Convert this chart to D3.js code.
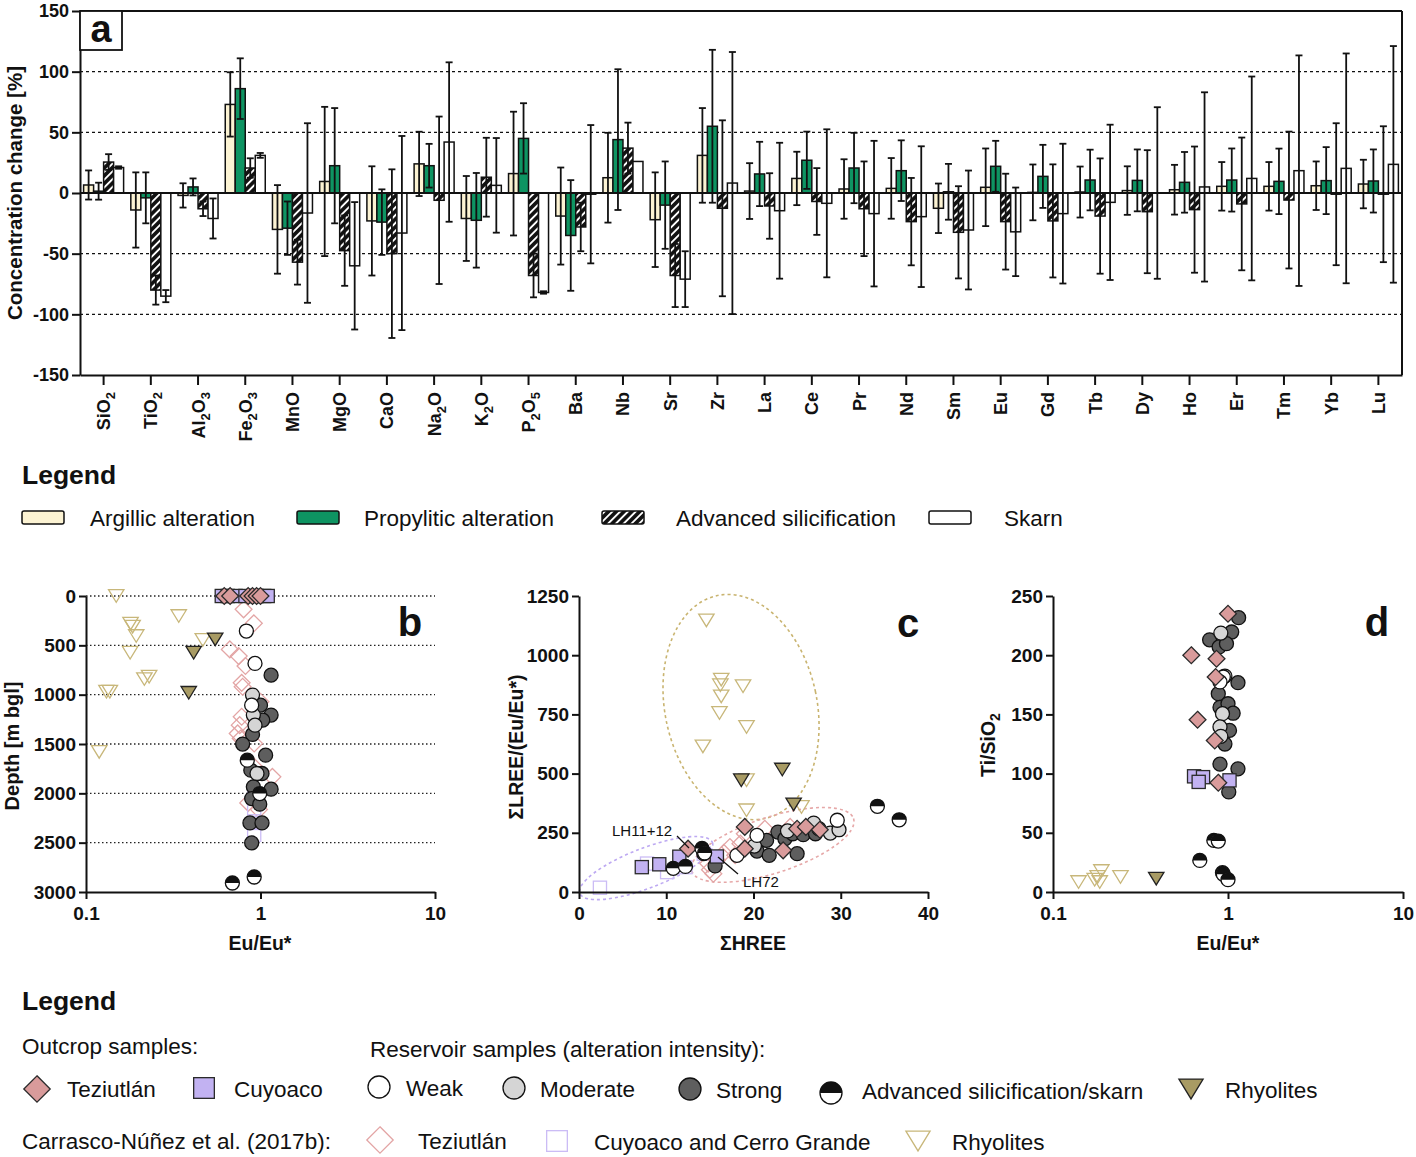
<!DOCTYPE html>
<html><head><meta charset="utf-8">
<script src="https://cdn.jsdelivr.net/npm/d3@7"></script>
<style>
body{margin:0;background:#fff}
svg{display:block}
text{font-family:"Liberation Sans",Arial,Helvetica,sans-serif;fill:#111}
</style>
</head><body>
<svg id="c" width="1416" height="1157"></svg>
<script>
// ---------------- DATA: panel a ----------------
const categories = ["SiO_2","TiO_2","Al_2O_3","Fe_2O_3","MnO","MgO","CaO","Na_2O","K_2O","P_2O_5","Ba","Nb","Sr","Zr","La","Ce","Pr","Nd","Sm","Eu","Gd","Tb","Dy","Ho","Er","Tm","Yb","Lu"];
const seriesNames = ["Argillic alteration","Propylitic alteration","Advanced silicification","Skarn"];
const argillicMean = [6.6,-14,-2,73,-30,9.5,-23,24,-21,16,-19,12.6,-22,31,1.6,12,3.3,3.8,-12.6,4.7,0.5,0.8,2,2.7,5.5,5.5,6,7.4];
const argillicSD   = [12,31,10,26.5,36.5,61.5,45,26.5,35,51,40,37,39,39,23,22,24.5,25,20.4,32,23,21,20,20.5,20,20,20,20];
const propyliticMean = [1.5,-4,5,86,-29,22.5,-24,22.5,-22.5,45,-35,44,-10,55,15.7,27,20.6,18.4,1,22,13.7,10.7,10.4,8.8,10.7,9.6,10.2,9.9];
const propyliticSD   = [7,21,7,25,22,47.5,27,18,39,29,45.6,58,36,63,26.5,23.6,29,25,23,21,26,25,25.5,25,26,27,27.6,26];
const advancedMean = [25.5,-80,-13,20.6,-57,-47.5,-50,-6,13,-68,-28,37,-68,-12.6,-10.7,-7,-13,-23.6,-32.4,-23.6,-23,-19,-15.4,-13.7,-9,-5.8,-1,-1];
const advancedSD   = [6.5,12,6,8,18.5,29,69.5,69,32.5,18,20,21,26,72.5,27,27.5,39,36,38,39.5,46.6,47.5,50.7,52,54.7,56.4,58.5,56];
const skarnMean = [21,-85,-21,31,-16.5,-60,-33,42,6.3,-82,-1,26,-71,8.2,-14.6,-8.5,-17,-19.5,-30.5,-32,-17,-7.7,0,5,12,18.4,20.3,23.6];
const skarnSD   = [1,5,16.5,2,74,52.5,80,65.7,39,1,57,0,23,108,56,61,60,58,49,36.5,57.6,64,70.7,78,84,95,94.7,97.5];
const yTicksA = [-150,-100,-50,0,50,100,150];
const gridA = [-100,-50,50,100];

// ---------------- DATA: panel b (Eu/Eu*, depth) ----------------
const bRhyO = [[0.149,0],[0.34,203],[0.18,280],[0.185,310],[0.194,406],[0.467,446],[0.179,575],[0.23,818],[0.216,842],[0.131,970],[0.137,970],[0.119,1580]];
const bRhyF = [[0.55,440],[0.414,575],[0.388,981]];
const bTezO = [[0.80,135],[0.916,277],[0.667,541],[0.75,609],[0.82,710],[0.78,880],[0.79,920],[1.0,1072],[0.78,1224],[0.76,1309],[0.74,1393],[0.77,1444],[0.92,1495],[0.92,1731],[1.17,1833],[0.85,2097],[0.98,2165]];
const bCuyO = [[0.92,2000],[0.92,2150],[0.92,2300],[0.92,2420]];
const bCuyF = [[0.6,0],[0.65,0],[0.72,0],[0.82,0],[0.95,0],[1.05,0],[1.1,0]];
const bTezF = [[0.62,0],[0.67,0],[0.85,0],[0.9,0],[0.95,0],[1.0,0]];
const bWeak = [[0.83,355],[0.93,683],[0.89,1106]];
const bMod = [[0.90,1004],[0.91,1207],[0.93,1309],[0.955,1799]];
const bStrong = [[1.15,802],[1.0,1106],[1.15,1207],[1.03,1258],[0.9,1403],[0.79,1501],[1.07,1613],[0.88,1765],[1.02,1799],[0.91,1934],[1.15,1958],[0.89,2053],[0.99,2110],[0.87,2300],[1.02,2300],[0.89,2503]];
const bAdv = [[0.84,1664],[0.99,2002],[0.69,2909],[0.92,2848]];
const bTicksY = [0,500,1000,1500,2000,2500,3000];
const logTicks = [0.1,1,10];

// ---------------- DATA: panel c (ΣHREE, ΣLREE/(Eu/Eu*)) ----------------
const cRhyO = [[14.6,1147],[16.3,897],[16.2,873],[16.3,826],[16.1,756],[18.8,869],[19.2,697],[14.2,615],[19.2,472],[19.2,345],[25.5,359]];
const cRhyF = [[18.6,472],[23.3,517],[24.6,370]];
const cCuyO = [[2.4,18],[7.8,120],[10.1,84],[12.2,105],[14.3,162]];
const cTezO = [[15.0,94],[15.8,134],[16.6,165],[17.3,190],[17.9,155],[18.5,204],[19.0,246],[21.3,267],[24.2,275],[14.8,120],[15.4,77]];
const cCuyF = [[7.2,105],[9.2,117],[11.5,149],[15.8,150]];
const cTezF = [[12.5,183],[19.0,275],[19.0,183],[23.4,176],[25.0,267],[26.0,275],[27.6,263]];
const cWeak = [[18.1,155],[20.4,239],[29.6,303]];
const cMod = [[20.1,194],[23.9,258],[26.9,291],[28.8,249],[29.8,263]];
const cStrong = [[20.4,173],[21.5,218],[21.8,155],[22.8,253],[23.6,225],[25.0,162],[24.5,246],[25.7,242],[27.1,246],[15.6,110],[14.3,162],[27.5,267]];
const cAdv = [[34.2,362],[36.7,305],[10.8,100],[12.2,108],[14.1,184],[14.4,165]];
const cTicksX = [0,10,20,30,40];
const cTicksY = [0,250,500,750,1000,1250];

// ---------------- DATA: panel d (Eu/Eu*, Ti/SiO2) ----------------
const dRhyO = [[0.140,8.4],[0.173,10.4],[0.185,8.4],[0.189,17.7],[0.18,12.7],[0.243,12.7]];
const dRhyF = [[0.389,11.3]];
const dAdv = [[0.83,43.6],[0.88,43],[0.69,26.7],[0.93,16.3],[0.94,15],[1.0,10.4]];
const dTezF = [[1.0,235],[0.617,200],[0.86,197],[0.85,181.6],[0.67,145.5],[0.84,128],[0.88,92.3]];
const dCuyF = [[0.64,97.7],[0.72,97],[0.68,93],[1.02,94.3]];
const dWeak = [[0.94,181.6],[0.9,177.4]];
const dMod = [[0.91,218.7],[0.96,182.4],[0.93,150.6],[0.9,139.4],[0.91,131.5]];
const dStrong = [[1.15,231.7],[0.785,213],[1.05,219.6],[0.89,207],[0.98,209.7],[1.14,176.8],[0.88,167.5],[0.9,156],[1.0,159],[1.07,151],[1.02,136.5],[0.96,125],[0.9,108],[1.14,104],[1.01,84.5]];
const dTicksY = [0,50,100,150,200,250];

// ================= DRAWING =================
const svg = d3.select("#c");
const defs = svg.append("defs");
const hp = defs.append("pattern").attr("id","hatch").attr("patternUnits","userSpaceOnUse")
  .attr("width",5.5).attr("height",5.5).attr("patternTransform","rotate(45)");
hp.append("rect").attr("width",5.5).attr("height",5.5).attr("fill","#111");
hp.append("line").attr("x1",2.75).attr("x2",2.75).attr("y1",0).attr("y2",5.5).attr("stroke","#fff").attr("stroke-width",1.9);

const fills = ["#FCF3D3","#0E9462","url(#hatch)","#FFFFFF"];
const means = [argillicMean, propyliticMean, advancedMean, skarnMean];
const sds = [argillicSD, propyliticSD, advancedSD, skarnSD];
const fmt = d=>String(d);

function styleAxis(g, fs){
  g.selectAll("path.domain").attr("stroke","#111").attr("stroke-width",2);
  g.selectAll(".tick line").attr("stroke","#111").attr("stroke-width",2);
  g.selectAll(".tick text").attr("font-weight","bold").attr("font-size",fs).attr("fill","#111")
   .attr("font-family","'Liberation Sans',Arial,sans-serif");
}

// ---- Panel a ----
const A = {l:80, r:1402, t:11, b:375};
const xA = d3.scaleBand().domain(categories).range([A.l, A.r]);
const yA = d3.scaleLinear().domain([-150,150]).range([A.b, A.t]);
const xSub = d3.scaleBand().domain(seriesNames).range([0,40]);
const offA = (xA.bandwidth()-40)/2;
const ga = svg.append("g");

ga.selectAll("line.grid").data(gridA).join("line")
  .attr("x1",A.l).attr("x2",A.r).attr("y1",d=>yA(d)).attr("y2",d=>yA(d))
  .attr("stroke","#111").attr("stroke-width",1.4).attr("stroke-dasharray","3,3");

const barData = [];
categories.forEach((c,i)=>seriesNames.forEach((s,j)=>barData.push({c,s,j,m:means[j][i],sd:sds[j][i]})));
ga.selectAll("rect.bar").data(barData).join("rect")
  .attr("x",d=>xA(d.c)+offA+xSub(d.s)).attr("width",xSub.bandwidth())
  .attr("y",d=>Math.min(yA(d.m),yA(0))).attr("height",d=>Math.abs(yA(d.m)-yA(0)))
  .attr("fill",d=>fills[d.j]).attr("stroke","#111").attr("stroke-width",1.5);
ga.append("line").attr("x1",A.l).attr("x2",A.r).attr("y1",yA(0)).attr("y2",yA(0)).attr("stroke","#111").attr("stroke-width",2);
const eb = ga.selectAll("g.eb").data(barData.filter(d=>d.sd>0)).join("g")
  .attr("transform",d=>`translate(${xA(d.c)+offA+xSub(d.s)+xSub.bandwidth()/2},0)`);
eb.append("line").attr("y1",d=>yA(d.m-d.sd)).attr("y2",d=>yA(d.m+d.sd)).attr("stroke","#111").attr("stroke-width",1.8);
eb.append("line").attr("x1",-3.5).attr("x2",3.5).attr("y1",d=>yA(d.m+d.sd)).attr("y2",d=>yA(d.m+d.sd)).attr("stroke","#111").attr("stroke-width",1.8);
eb.append("line").attr("x1",-3.5).attr("x2",3.5).attr("y1",d=>yA(d.m-d.sd)).attr("y2",d=>yA(d.m-d.sd)).attr("stroke","#111").attr("stroke-width",1.8);

const axA = ga.append("g").attr("transform",`translate(${A.l},0)`)
  .call(d3.axisLeft(yA).tickValues(yTicksA).tickSize(8).tickSizeOuter(0).tickPadding(3).tickFormat(fmt));
styleAxis(axA,"18px");
const axAB = ga.append("g").attr("transform",`translate(0,${A.b})`)
  .call(d3.axisBottom(xA).tickSize(10).tickSizeOuter(0).tickFormat(""));
styleAxis(axAB,"18px");
ga.append("line").attr("x1",A.l).attr("x2",A.r).attr("y1",A.t).attr("y2",A.t).attr("stroke","#111").attr("stroke-width",2);
ga.append("line").attr("x1",A.r).attr("x2",A.r).attr("y1",A.t).attr("y2",A.b).attr("stroke","#111").attr("stroke-width",2);

// category labels with subscripts
categories.forEach(c=>{
  const t = ga.append("text").attr("transform",`translate(${xA(c)+xA.bandwidth()/2+6.5},392) rotate(-90)`)
    .attr("text-anchor","end").attr("font-weight","bold").attr("font-size","18px");
  const parts = c.split(/(_\d)/).filter(p=>p.length);
  let sub=false;
  parts.forEach(p=>{
    if(p[0]==="_"){ t.append("tspan").attr("font-size","13px").attr("dy",5).text(p.slice(1)); sub=true; }
    else { const ts=t.append("tspan").text(p); if(sub){ts.attr("dy",-5); sub=false;} }
  });
});
ga.append("text").attr("transform",`translate(22,${yA(0)}) rotate(-90)`).attr("text-anchor","middle")
  .attr("font-weight","bold").attr("font-size","20.5px").text("Concentration change [%]");
ga.append("rect").attr("x",A.l).attr("y",A.t).attr("width",42).attr("height",39).attr("fill","#fff").attr("stroke","#111").attr("stroke-width",1.8);
ga.append("text").attr("x",A.l+21).attr("y",A.t+31).attr("text-anchor","middle").attr("font-weight","bold").attr("font-size","38px").text("a");

// legend a
svg.append("text").attr("x",22).attr("y",484).attr("font-weight","bold").attr("font-size","26.5px").text("Legend");
const legA = [{x:22,tx:90},{x:297,tx:364},{x:602,tx:676},{x:929,tx:1004}];
legA.forEach((p,j)=>{
  svg.append("rect").attr("x",p.x).attr("y",511).attr("width",42).attr("height",13).attr("rx",2)
    .attr("fill",fills[j]).attr("stroke","#111").attr("stroke-width",1.5);
  svg.append("text").attr("x",p.tx).attr("y",526).attr("font-size","22.5px").text(seriesNames[j]);
});

// ---------------- marker helper ----------------
const ST = {
  tezF:{shape:"diamond",fill:"#D99B9B",stroke:"#2a2a2a"},
  tezO:{shape:"diamond",fill:"none",stroke:"#E3A5A5"},
  cuyF:{shape:"square",fill:"#C2B2F2",stroke:"#2a2a2a"},
  cuyO:{shape:"square",fill:"none",stroke:"#CBBCF5"},
  weak:{shape:"circle",fill:"#FFFFFF",stroke:"#111"},
  mod:{shape:"circle",fill:"#D5D5D5",stroke:"#111"},
  strong:{shape:"circle",fill:"#5E5E5E",stroke:"#111"},
  adv:{shape:"half",fill:"#fff",stroke:"#111"},
  rhyF:{shape:"tri",fill:"#A89B64",stroke:"#222"},
  rhyO:{shape:"tri",fill:"none",stroke:"#C8B77A"}
};
function marker(g, type, x, y, s){
  const st = ST[type]; const sw = 1.3;
  if(st.shape==="circle"){
    g.append("circle").attr("cx",x).attr("cy",y).attr("r",s*0.5).attr("fill",st.fill).attr("stroke",st.stroke).attr("stroke-width",sw);
  } else if(st.shape==="half"){
    const r=s*0.5;
    g.append("circle").attr("cx",x).attr("cy",y).attr("r",r).attr("fill","#fff");
    g.append("path").attr("d",`M${x-r},${y} A${r},${r} 0 0 1 ${x+r},${y} Z`).attr("fill","#111");
    g.append("circle").attr("cx",x).attr("cy",y).attr("r",r).attr("fill","none").attr("stroke","#111").attr("stroke-width",sw);
  } else if(st.shape==="diamond"){
    const h=s*0.6, w=s*0.6;
    g.append("path").attr("d",`M${x},${y-h}L${x+w},${y}L${x},${y+h}L${x-w},${y}Z`).attr("fill",st.fill).attr("stroke",st.stroke).attr("stroke-width",sw);
  } else if(st.shape==="square"){
    const h=s*0.47;
    g.append("rect").attr("x",x-h).attr("y",y-h).attr("width",2*h).attr("height",2*h).attr("fill",st.fill).attr("stroke",st.stroke).attr("stroke-width",sw);
  } else if(st.shape==="tri"){
    const w=s*0.55, h=s*0.45;
    g.append("path").attr("d",`M${x-w},${y-h}L${x+w},${y-h}L${x},${y+h}Z`).attr("fill",st.fill).attr("stroke",st.stroke).attr("stroke-width",sw);
  }
}
function plotSet(g, data, type, xs, ys, s){ data.forEach(d=>marker(g,type,xs(d[0]),ys(d[1]),s)); }
const MS = 14;

// ---- Panel b ----
const xB = d3.scaleLog().domain([0.1,10]).range([86,435]);
const yB = d3.scaleLinear().domain([0,3000]).range([596,892]);
const gb = svg.append("g");
gb.selectAll("line.grid").data(bTicksY.slice(0,6)).join("line")
  .attr("x1",86).attr("x2",435).attr("y1",d=>yB(d)).attr("y2",d=>yB(d))
  .attr("stroke","#222").attr("stroke-width",1.3).attr("stroke-dasharray","1.5,2.5");
plotSet(gb,bTezO,"tezO",xB,yB,MS);
plotSet(gb,bCuyO,"cuyO",xB,yB,MS);
plotSet(gb,bRhyO,"rhyO",xB,yB,MS);
plotSet(gb,bRhyF,"rhyF",xB,yB,MS);
plotSet(gb,bCuyF,"cuyF",xB,yB,MS);
plotSet(gb,bTezF,"tezF",xB,yB,MS);
plotSet(gb,bStrong,"strong",xB,yB,MS);
plotSet(gb,bMod,"mod",xB,yB,MS);
plotSet(gb,bWeak,"weak",xB,yB,MS);
plotSet(gb,bAdv,"adv",xB,yB,MS);
styleAxis(gb.append("g").attr("transform","translate(86,0)").call(d3.axisLeft(yB).tickValues(bTicksY).tickSize(7).tickSizeOuter(0).tickPadding(3).tickFormat(fmt)),"19px");
styleAxis(gb.append("g").attr("transform","translate(0,892)").call(d3.axisBottom(xB).tickValues(logTicks).tickSize(7).tickSizeOuter(0).tickPadding(8).tickFormat(fmt)),"19px");
gb.append("text").attr("transform","translate(19,746) rotate(-90)").attr("text-anchor","middle").attr("font-weight","bold").attr("font-size","20px").text("Depth [m bgl]");
gb.append("text").attr("x",260).attr("y",950).attr("text-anchor","middle").attr("font-weight","bold").attr("font-size","19.5px").text("Eu/Eu*");
gb.append("text").attr("x",410).attr("y",636).attr("text-anchor","middle").attr("font-weight","bold").attr("font-size","40px").text("b");

// ---- Panel c ----
const xC = d3.scaleLinear().domain([0,40]).range([579,928]);
const yC = d3.scaleLinear().domain([0,1250]).range([892,596]);
const gc = svg.append("g");
const ellC = [
  {hree:18.57, lree:781, color:"#C9B470"},
  {hree:22.2, lree:199, color:"#E6A8A8"},
  {hree:7.7, lree:101, color:"#BDA9F2"}
];
const ellShape = [[76,114,-12],[85,28,-18],[71,20,-21]];
ellC.forEach((e,i)=>{
  gc.append("ellipse").attr("cx",0).attr("cy",0).attr("rx",ellShape[i][0]).attr("ry",ellShape[i][1])
    .attr("transform",`translate(${xC(e.hree)},${yC(e.lree)}) rotate(${ellShape[i][2]})`)
    .attr("fill","none").attr("stroke",e.color).attr("stroke-width",1.6).attr("stroke-dasharray","3,3");
});
plotSet(gc,cCuyO,"cuyO",xC,yC,MS);
plotSet(gc,cTezO,"tezO",xC,yC,MS);
plotSet(gc,cRhyO,"rhyO",xC,yC,MS);
plotSet(gc,cRhyF,"rhyF",xC,yC,MS);
plotSet(gc,cStrong,"strong",xC,yC,MS);
plotSet(gc,cCuyF,"cuyF",xC,yC,MS);
plotSet(gc,cMod,"mod",xC,yC,MS);
plotSet(gc,cWeak,"weak",xC,yC,MS);
plotSet(gc,cTezF,"tezF",xC,yC,MS);
plotSet(gc,cAdv,"adv",xC,yC,MS);
// annotations
gc.append("line").attr("x1",677).attr("y1",836).attr("x2",689).attr("y2",848).attr("stroke","#111").attr("stroke-width",1.3);
gc.append("text").attr("x",612).attr("y",836).attr("font-size","15px").text("LH11+12");
gc.append("line").attr("x1",718).attr("y1",857).attr("x2",738).attr("y2",874).attr("stroke","#111").attr("stroke-width",1.3);
gc.append("text").attr("x",743).attr("y",887).attr("font-size","15px").text("LH72");
styleAxis(gc.append("g").attr("transform","translate(579,0)").call(d3.axisLeft(yC).tickValues(cTicksY).tickSize(7).tickSizeOuter(0).tickPadding(3).tickFormat(fmt)),"19px");
styleAxis(gc.append("g").attr("transform","translate(0,892)").call(d3.axisBottom(xC).tickValues(cTicksX).tickSize(7).tickSizeOuter(0).tickPadding(8).tickFormat(fmt)),"19px");
gc.append("text").attr("transform","translate(523,747) rotate(-90)").attr("text-anchor","middle").attr("font-weight","bold").attr("font-size","19.5px").text("ΣLREE/(Eu/Eu*)");
gc.append("text").attr("x",753).attr("y",950).attr("text-anchor","middle").attr("font-weight","bold").attr("font-size","19.5px").text("ΣHREE");
gc.append("text").attr("x",908).attr("y",637).attr("text-anchor","middle").attr("font-weight","bold").attr("font-size","40px").text("c");

// ---- Panel d ----
const xD = d3.scaleLog().domain([0.1,10]).range([1053,1403]);
const yD = d3.scaleLinear().domain([0,250]).range([892,596]);
const gd = svg.append("g");
plotSet(gd,dRhyO,"rhyO",xD,yD,MS);
plotSet(gd,dRhyF,"rhyF",xD,yD,MS);
plotSet(gd,dAdv,"adv",xD,yD,MS);
plotSet(gd,dStrong,"strong",xD,yD,MS);
plotSet(gd,dMod,"mod",xD,yD,MS);
plotSet(gd,dWeak,"weak",xD,yD,MS);
plotSet(gd,dCuyF,"cuyF",xD,yD,MS);
plotSet(gd,dTezF,"tezF",xD,yD,MS);
styleAxis(gd.append("g").attr("transform","translate(1053,0)").call(d3.axisLeft(yD).tickValues(dTicksY).tickSize(7).tickSizeOuter(0).tickPadding(3).tickFormat(fmt)),"19px");
styleAxis(gd.append("g").attr("transform","translate(0,892)").call(d3.axisBottom(xD).tickValues(logTicks).tickSize(7).tickSizeOuter(0).tickPadding(8).tickFormat(fmt)),"19px");
const dl = gd.append("text").attr("transform","translate(995,745) rotate(-90)").attr("text-anchor","middle").attr("font-weight","bold").attr("font-size","19.5px");
dl.append("tspan").text("Ti/SiO");
dl.append("tspan").attr("font-size","14px").attr("dy",5).text("2");
gd.append("text").attr("x",1228).attr("y",950).attr("text-anchor","middle").attr("font-weight","bold").attr("font-size","19.5px").text("Eu/Eu*");
gd.append("text").attr("x",1377).attr("y",636).attr("text-anchor","middle").attr("font-weight","bold").attr("font-size","40px").text("d");

// ---- bottom legend ----
const gl = svg.append("g");
gl.append("text").attr("x",22).attr("y",1010).attr("font-weight","bold").attr("font-size","26.5px").text("Legend");
gl.append("text").attr("x",22).attr("y",1054).attr("font-size","22.5px").text("Outcrop samples:");
gl.append("text").attr("x",370).attr("y",1057).attr("font-size","22.5px").text("Reservoir samples (alteration intensity):");
gl.append("text").attr("x",22).attr("y",1149).attr("font-size","22.5px").text("Carrasco-Núñez et al. (2017b):");
const legItems = [
  {t:"tezF",x:37,y:1089,tx:67,ty:1097,label:"Teziutlán"},
  {t:"cuyF",x:204,y:1088,tx:234,ty:1097,label:"Cuyoaco"},
  {t:"weak",x:379,y:1087,tx:406,ty:1096,label:"Weak"},
  {t:"mod",x:514,y:1088,tx:540,ty:1097,label:"Moderate"},
  {t:"strong",x:690,y:1089,tx:716,ty:1098,label:"Strong"},
  {t:"adv",x:831,y:1093,tx:862,ty:1099,label:"Advanced silicification/skarn"},
  {t:"rhyF",x:1191,y:1089,tx:1225,ty:1098,label:"Rhyolites"},
  {t:"tezO",x:380,y:1140,tx:418,ty:1149,label:"Teziutlán"},
  {t:"cuyO",x:557,y:1141,tx:594,ty:1150,label:"Cuyoaco and Cerro Grande"},
  {t:"rhyO",x:918,y:1141,tx:952,ty:1150,label:"Rhyolites"}
];
legItems.forEach(d=>{
  marker(gl,d.t,d.x,d.y,22);
  gl.append("text").attr("x",d.tx).attr("y",d.ty).attr("font-size","22.5px").text(d.label);
});
</script>
</body></html>
